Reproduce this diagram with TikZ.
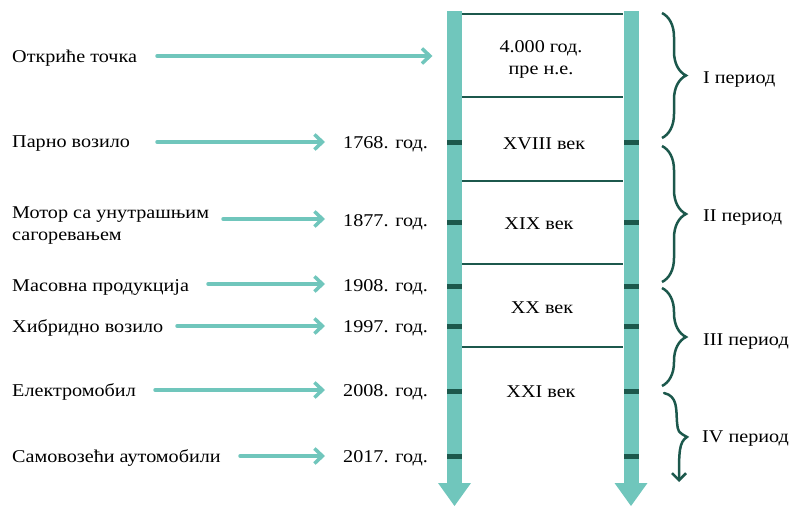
\documentclass[tikz,border=0pt]{standalone}
\usepackage{fontspec}
\setmainfont[FakeStretch=1.12]{Liberation Serif}
\usetikzlibrary{arrows.meta,decorations.pathreplacing}
\definecolor{lightteal}{RGB}{112,198,188}
\definecolor{deepteal}{RGB}{28,88,76}
\begin{document}
\begin{tikzpicture}[x=1pt,y=-1pt,
  txt/.style={inner sep=0pt,yshift=-2pt,font=\fontsize{18}{22}\selectfont},
  lbl/.style={txt,anchor=west,align=left},
  yr/.style={txt,anchor=west},
  cent/.style={txt,align=center},
  per/.style={txt,anchor=west},
  tarr/.style={draw=lightteal,line width=3.5pt,line cap=round,
    -{Straight Barb[length=8pt,width=15pt,line width=3.5pt]}},
  rung/.style={draw=deepteal,line width=2.5pt},
  tickmark/.style={fill=deepteal},
  shaft/.style={fill=lightteal},
  brc/.style={draw=deepteal,line width=2.5pt,decorate,
    decoration={brace,amplitude=24pt}},
]
\useasboundingbox (0,0) rectangle (792,506);

% ladder: two thick down arrows
\foreach \cx/\nm in {454.5/L,631/R}{
  \fill[shaft] (\cx-7.5,11) rectangle (\cx+7.5,484);
  \fill[shaft] (\cx-16.5,483) -- (\cx+16.5,483) -- (\cx,506) -- cycle;
  \coordinate (\nm) at (\cx,0);
}
% rungs between the rails
\foreach \ry in {14,97,181,264,347}{
  \draw[rung] (462,\ry) -- (623,\ry);
}
% year marks on both rails
\foreach \ty in {142,222,286,326,391,456}{
  \fill[tickmark] (447,\ty-2.5) rectangle (462,\ty+2.5);
  \fill[tickmark] (623.5,\ty-2.5) rectangle (638.5,\ty+2.5);
}

% centuries inside the ladder
\node[cent] (c0) at (541,57) {4.000 год.\\пре н.е.};
\node[cent] (c1) at (544,142) {XVIII век};
\node[cent] (c2) at (539,222) {XIX век};
\node[cent] (c3) at (542,306) {XX век};
\node[cent] (c4) at (541,390) {XXI век};

% inventions
\node[lbl] (e1) at (12,56) {Откриће точка};
\node[lbl] (e2) at (12,142) {Парно возило};
\node[lbl] (e3) at (12,224) {Мотор са унутрашњим\\сагоревањем};
\node[lbl] (e4) at (12,285) {Масовна продукција};
\node[lbl] (e5) at (12,326) {Хибридно возило};
\node[lbl] (e6) at (12,390) {Електромобил};
\node[lbl] (e7) at (12,456) {Самовозећи аутомобили};

% years
\node[yr] (y2) at (343,142) {1768. год.};
\node[yr] (y3) at (343,220) {1877. год.};
\node[yr] (y4) at (343,285) {1908. год.};
\node[yr] (y5) at (343,326) {1997. год.};
\node[yr] (y6) at (343,390) {2008. год.};
\node[yr] (y7) at (343,456) {2017. год.};

% arrow starts
\coordinate (s1) at (157,56);
\coordinate (s2) at (157,142);
\coordinate (s3) at (223,219);
\coordinate (s4) at (208,284);
\coordinate (s5) at (177,326);
\coordinate (s6) at (155,390);
\coordinate (s7) at (240,456);

\draw[tarr,shorten >=22pt] (s1) -- (s1 -| L);
\foreach \i in {2,...,7}{
  \draw[tarr,shorten >=18pt] (s\i) -- (s\i -| y\i.west);
}

% periods
\coordinate (b1t) at (662,13);  \coordinate (b1b) at (662,138);
\coordinate (b2t) at (662,146); \coordinate (b2b) at (662,282);
\coordinate (b3t) at (662,288); \coordinate (b3b) at (662,386);
\draw[brc] (b1t) -- (b1b);
\draw[brc] (b2t) -- (b2b);
\draw[brc] (b3t) -- (b3b);
\coordinate (b4t) at (664,393);
\coordinate (b4e) at (679,482);
\draw[draw=deepteal,line width=2.5pt,line cap=round,
  -{Straight Barb[length=7pt,width=14pt,line width=2.5pt]}]
  (b4t) .. controls (678,396) and (676,410) .. (677,422)
  .. controls (678,432) .. (687,437)
  .. controls (679,442) and (679,452) .. (b4e);

\node[per] (p1) at (703,78) {I период};
\node[per] (p2) at (703,216) {II период};
\node[per] (p3) at (703,340) {III период};
\node[per] (p4) at (702,437) {IV период};
\end{tikzpicture}
\end{document}
